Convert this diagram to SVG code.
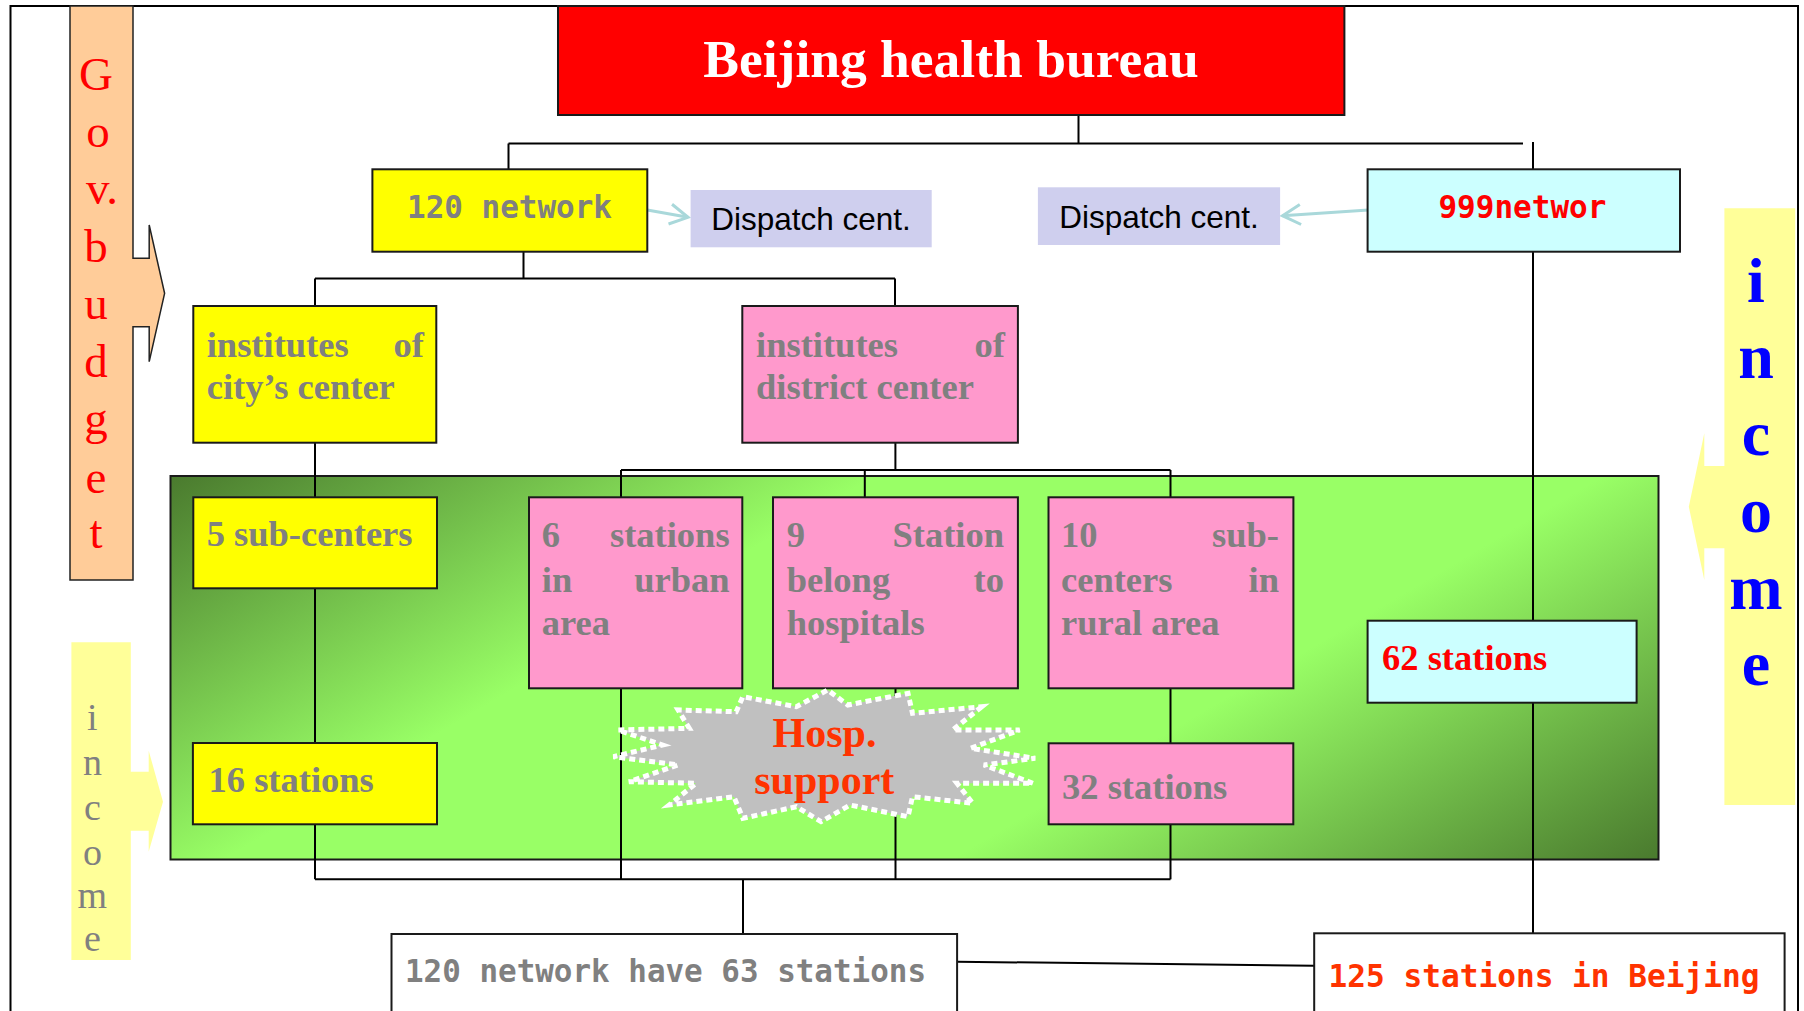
<svg xmlns="http://www.w3.org/2000/svg" width="1804" height="1011" viewBox="0 0 1804 1011">
<defs>
<linearGradient id="greenGrad" gradientUnits="userSpaceOnUse" x1="639" y1="200" x2="1189" y2="1135">
<stop offset="0" stop-color="#4A7A2E"/>
<stop offset="0.33" stop-color="#99FF66"/>
<stop offset="0.67" stop-color="#99FF66"/>
<stop offset="1" stop-color="#4A7A2E"/>
</linearGradient>
<marker id="openArrow" markerUnits="userSpaceOnUse" markerWidth="24" markerHeight="24" refX="20" refY="12" orient="auto">
<path d="M2,2 L20,12 L2,22" fill="none" stroke="#A9D8DA" stroke-width="3"/>
</marker>
</defs>
<style>
.box{stroke:#1a1a1a;stroke-width:2}
.yellow{fill:#FFFF00}
.pink{fill:#FF99CC}
.cyan{fill:#CCFFFF}
.white{fill:#FFFFFF}
.conn{stroke:#000;stroke-width:2;fill:none}
.tnr{font-family:"Liberation Serif","Times New Roman",serif;font-weight:bold;font-size:36.5px;fill:#808080}
.mono{font-family:"DejaVu Sans Mono","Liberation Mono",monospace;font-weight:bold;font-size:32px}
.disp{font-family:"Liberation Sans",Arial,sans-serif;font-size:31.5px;fill:#000}
.vert{font-family:"Liberation Serif","Times New Roman",serif;text-anchor:middle}
</style>
<rect id="frame" x="10.5" y="6" width="1787.5" height="1030" fill="#FFFFFF" stroke="#000" stroke-width="2"/>

<g id="govt-budget">
<path d="M70,6 L133,6 L133,258.3 L149.2,258.3 L149.2,225 L164.6,293.3 L149.2,361.7 L149.2,326.7 L133,326.7 L133,580 L70,580 Z" fill="#FFCC99" stroke="#222" stroke-width="1.5"/>
<g class="vert" font-size="47" fill="#FF0000">
<text x="96" y="90">G</text>
<text x="98" y="147.3">o</text>
<text x="102" y="204">v.</text>
<text x="96" y="261.7">b</text>
<text x="96" y="319.3">u</text>
<text x="96" y="377.3">d</text>
<text x="96" y="434">g</text>
<text x="96" y="492.5">e</text>
<text x="96" y="548">t</text>
</g>
</g>

<g id="income-left">
<path d="M71.4,642.3 L130.8,642.3 L130.8,771.7 L148.7,771.7 L148.7,750.7 L163,801.7 L148.7,851.7 L148.7,830.7 L130.8,830.7 L130.8,960 L71.4,960 Z" fill="#FFFF99"/>
<g class="vert" font-size="38" fill="#808080" font-weight="normal">
<text x="92.4" y="730">i</text>
<text x="92.4" y="775">n</text>
<text x="92.4" y="820">c</text>
<text x="92.4" y="865">o</text>
<text x="92.4" y="908.3">m</text>
<text x="92.4" y="951">e</text>
</g>
</g>

<g id="income-right">
<path d="M1724.4,208.3 L1795.2,208.3 L1795.2,805 L1724.4,805 L1724.4,548.3 L1704.3,548.3 L1704.3,580 L1688.8,506.7 L1704.3,433.3 L1704.3,466 L1724.4,466 Z" fill="#FFFF99"/>
<g class="vert" font-size="64" fill="#0000FF" font-weight="bold">
<text x="1756" y="301.7">i</text>
<text x="1756" y="378.3">n</text>
<text x="1756" y="455">c</text>
<text x="1756" y="531.7">o</text>
<text x="1756" y="609.3">m</text>
<text x="1756" y="685">e</text>
</g>
</g>

<rect id="green-panel" x="170.5" y="476" width="1488" height="383.5" fill="url(#greenGrad)" stroke="#1a1a1a" stroke-width="2"/>

<g id="connectors" class="conn">
<line x1="1078.5" y1="115" x2="1078.5" y2="143.5"/>
<line x1="508.5" y1="143.5" x2="1523" y2="143.5"/>
<line x1="508.5" y1="143.5" x2="508.5" y2="169.3"/>
<line x1="1533" y1="142" x2="1533" y2="169.3"/>
<line x1="1533" y1="251.7" x2="1533" y2="620.7"/>
<line x1="1533" y1="702.7" x2="1533" y2="933.3"/>
<line x1="523.5" y1="251.7" x2="523.5" y2="278.4"/>
<line x1="315" y1="278.4" x2="895" y2="278.4"/>
<line x1="315" y1="278.4" x2="315" y2="306"/>
<line x1="895" y1="278.4" x2="895" y2="306"/>
<line x1="315" y1="442.7" x2="315" y2="497.3"/>
<line x1="895.4" y1="442.7" x2="895.4" y2="470"/>
<line x1="621" y1="470" x2="1170.5" y2="470"/>
<line x1="621" y1="470" x2="621" y2="497.3"/>
<line x1="864.8" y1="470" x2="864.8" y2="497.3"/>
<line x1="1170.5" y1="470" x2="1170.5" y2="497.3"/>
<line x1="315" y1="588.3" x2="315" y2="743"/>
<line x1="315" y1="824.3" x2="315" y2="879.3"/>
<line x1="621" y1="688.3" x2="621" y2="879.3"/>
<line x1="895.5" y1="688.3" x2="895.5" y2="879.3"/>
<line x1="1170.5" y1="688.3" x2="1170.5" y2="743.3"/>
<line x1="1170.5" y1="824.3" x2="1170.5" y2="879.3"/>
<line x1="315" y1="879.3" x2="1170.5" y2="879.3"/>
<line x1="743" y1="879.3" x2="743" y2="934"/>
<line x1="957" y1="961.7" x2="1314" y2="965.7"/>
<line x1="647.3" y1="210" x2="688" y2="217.3" stroke="#A9D8DA" stroke-width="3" marker-end="url(#openArrow)"/>
<line x1="1368.4" y1="210" x2="1282.5" y2="215.7" stroke="#A9D8DA" stroke-width="3" marker-end="url(#openArrow)"/>
</g>

<g id="beijing-health-bureau">
<rect x="558" y="6" width="786.4" height="109" fill="#FF0000" class="box"/>
<text x="951" y="77.3" text-anchor="middle" font-family="'Liberation Serif','Times New Roman',serif" font-weight="bold" font-size="53.5" fill="#FFFFFF">Beijing health bureau</text>
</g>

<g id="network-120">
<rect x="372.4" y="169.3" width="274.9" height="82.4" class="box yellow"/>
<text x="407" y="218.3" class="mono" fill="#808080" textLength="205" lengthAdjust="spacingAndGlyphs">120 network</text>
</g>

<g id="dispatch-1">
<rect x="690.6" y="190" width="241.1" height="57.3" fill="#CFCFEE"/>
<text x="811" y="230" class="disp" text-anchor="middle">Dispatch cent.</text>
</g>

<g id="dispatch-2">
<rect x="1037.9" y="187.3" width="242.2" height="57.7" fill="#CFCFEE"/>
<text x="1159" y="227.7" class="disp" text-anchor="middle">Dispatch cent.</text>
</g>

<g id="network-999">
<rect x="1367.6" y="169.3" width="312.4" height="82.4" class="box cyan"/>
<text x="1522.4" y="218.3" class="mono" fill="#FF0000" text-anchor="middle" textLength="168" lengthAdjust="spacingAndGlyphs">999networ</text>
</g>

<g id="city-center">
<rect x="193.3" y="306" width="243" height="136.7" class="box yellow"/>
<text class="tnr"><tspan x="206.7" y="356.7">institutes</tspan><tspan x="424" y="356.7" text-anchor="end">of</tspan><tspan x="206.7" y="399.3">city’s center</tspan></text>
</g>

<g id="district-center">
<rect x="742.3" y="306" width="275.6" height="136.7" class="box pink"/>
<text class="tnr"><tspan x="756" y="356.7">institutes</tspan><tspan x="1005" y="356.7" text-anchor="end">of</tspan><tspan x="756" y="399.3">district center</tspan></text>
</g>

<g id="sub-centers-5">
<rect x="193.3" y="497.3" width="243.7" height="91" class="box yellow"/>
<text x="206.7" y="546" class="tnr">5 sub-centers</text>
</g>

<g id="stations-6">
<rect x="529" y="497.3" width="213.3" height="191" class="box pink"/>
<text class="tnr"><tspan x="541.8" y="547.3">6</tspan><tspan x="729.6" y="547.3" text-anchor="end">stations</tspan><tspan x="541.8" y="591.5">in</tspan><tspan x="729.6" y="591.5" text-anchor="end">urban</tspan><tspan x="541.8" y="635">area</tspan></text>
</g>

<g id="station-9">
<rect x="773" y="497.3" width="244.9" height="191" class="box pink"/>
<text class="tnr"><tspan x="786.7" y="547.3">9</tspan><tspan x="1004" y="547.3" text-anchor="end">Station</tspan><tspan x="786.7" y="591.5">belong</tspan><tspan x="1004" y="591.5" text-anchor="end">to</tspan><tspan x="786.7" y="635">hospitals</tspan></text>
</g>

<g id="sub-centers-10">
<rect x="1048.5" y="497.3" width="244.9" height="191" class="box pink"/>
<text class="tnr"><tspan x="1061" y="547.3">10</tspan><tspan x="1279" y="547.3" text-anchor="end">sub-</tspan><tspan x="1061" y="591.5">centers</tspan><tspan x="1279" y="591.5" text-anchor="end">in</tspan><tspan x="1061" y="635">rural area</tspan></text>
</g>

<g id="stations-16">
<rect x="192.9" y="743" width="244.1" height="81.3" class="box yellow"/>
<text x="208.5" y="791.7" class="tnr">16 stations</text>
</g>

<g id="stations-32">
<rect x="1048.6" y="743.3" width="244.7" height="81" class="box pink"/>
<text x="1062" y="799" class="tnr">32 stations</text>
</g>

<g id="stations-62">
<rect x="1367.6" y="620.7" width="269" height="82" class="box cyan"/>
<text x="1382" y="670" class="tnr" font-size="37" style="fill:#FF0000">62 stations</text>
</g>

<g id="hosp-support">
<polygon points="981.7,706.7 952.7,730 1019.6,730 970.5,748.3 1035.2,758.3 983.9,765 1033,783.3 957,783.3 972.7,803.3 912.5,796.7 908,816.7 850,805 821,821.7 796.4,806.7 742.9,818.3 733.9,796.7 669.2,805 696,783.3 629,781.7 678.1,765 613.4,756.7 662.5,745 617.9,730 689.3,728.3 678.1,710 736.2,711.7 742.9,696.7 796.4,706.7 827.7,690 847.8,705 908,693.3 912.5,713.3" fill="#C0C0C0" stroke="#FFFFFF" stroke-width="5" stroke-dasharray="6 4"/>
<text x="824.5" y="746.7" text-anchor="middle" font-family="'Liberation Serif','Times New Roman',serif" font-weight="bold" font-size="42" fill="#FF3300">Hosp.</text>
<text x="824.3" y="794" text-anchor="middle" font-family="'Liberation Serif','Times New Roman',serif" font-weight="bold" font-size="42" fill="#FF3300">support</text>
</g>

<g id="network-120-total">
<rect x="391.5" y="934" width="565.6" height="100" class="box white"/>
<text x="405" y="981.7" class="mono" fill="#808080" textLength="521" lengthAdjust="spacingAndGlyphs">120 network have 63 stations</text>
</g>

<g id="stations-125">
<rect x="1314.2" y="933.3" width="470.4" height="100" class="box white"/>
<text x="1328.5" y="986.7" class="mono" fill="#FF3300" textLength="431" lengthAdjust="spacingAndGlyphs">125 stations in Beijing</text>
</g>
</svg>
